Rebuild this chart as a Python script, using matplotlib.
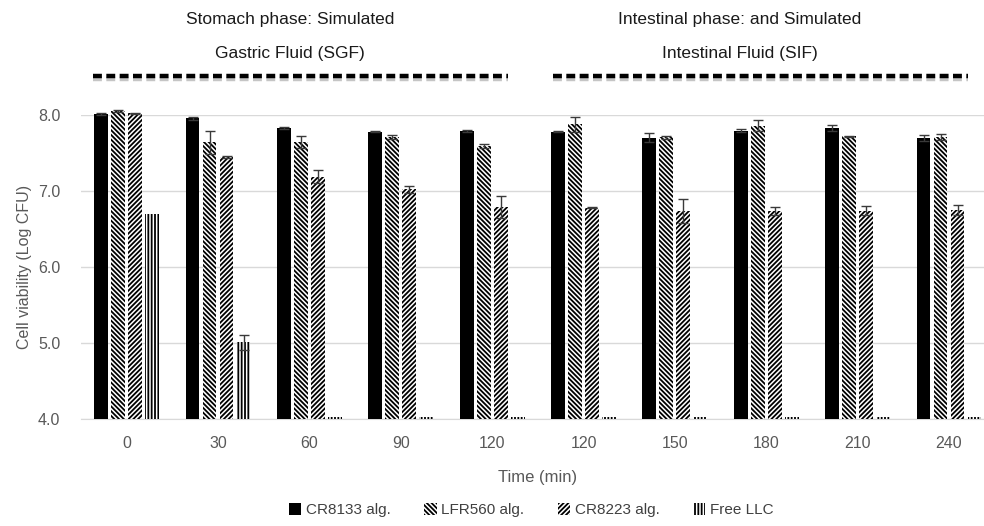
import numpy as np
import matplotlib
matplotlib.use('Agg')
import matplotlib.pyplot as plt
import matplotlib.patches as mpatches
import matplotlib.patheffects as pe
from matplotlib.lines import Line2D

plt.rcParams['font.family'] = ['Liberation Sans', 'DejaVu Sans']
plt.rcParams['hatch.linewidth'] = 1.3

# Data
time_labels = ['0', '30', '60', '90', '120', '120', '150', '180', '210', '240']
series_names = ['CR8133 alg.', 'LFR560 alg.', 'CR8223 alg.', 'Free LLC']

cr8133 = [8.01, 7.96, 7.83, 7.78, 7.79, 7.78, 7.70, 7.79, 7.83, 7.70]
cr8133_err = [0.01, 0.02, 0.01, 0.01, 0.01, 0.01, 0.06, 0.02, 0.04, 0.04]

lfr560 = [8.05, 7.64, 7.64, 7.71, 7.59, 7.88, 7.71, 7.86, 7.72, 7.71]
lfr560_err = [0.01, 0.15, 0.08, 0.03, 0.03, 0.10, 0.02, 0.07, 0.01, 0.04]

cr8223 = [8.02, 7.45, 7.19, 7.02, 6.79, 6.78, 6.74, 6.74, 6.74, 6.75]
cr8223_err = [0.01, 0.01, 0.09, 0.04, 0.14, 0.01, 0.16, 0.05, 0.06, 0.06]

free_llc = [6.70, 5.01, 4.02, 4.02, 4.02, 4.02, 4.02, 4.02, 4.02, 4.02]
free_llc_err = [0.0, 0.10, 0, 0, 0, 0, 0, 0, 0, 0]

fig = plt.figure(figsize=(9.84, 5.26), dpi=100)
ax = fig.add_axes([0.0823, 0.2034, 0.9177, 0.578])

x = np.arange(len(time_labels))
step = 0.186
width = 0.152
base = 4.0
styles = [
    dict(color='black', hatch=None),
    dict(color='white', hatch='\\' * 7),
    dict(color='white', hatch='/' * 7),
    dict(color='white', hatch='|' * 5),
]
values = [cr8133, lfr560, cr8223, free_llc]
errors = [cr8133_err, lfr560_err, cr8223_err, free_llc_err]

for i, (vals, errs, st) in enumerate(zip(values, errors, styles)):
    pos = x + (i - 1.5) * step
    heights = np.array(vals) - base
    ax.bar(pos, heights, width, bottom=base, color=st['color'], hatch=st['hatch'],
           edgecolor='black', linewidth=0, clip_on=False, zorder=3)
    errs = np.array(errs)
    mask = errs > 0
    ax.errorbar(pos[mask], np.array(vals)[mask], yerr=errs[mask], fmt='none',
                ecolor='#3a3a3a', elinewidth=1, capsize=3.5, capthick=1,
                zorder=4, clip_on=False)

ax.set_xlim(-0.5, 9.383)
ax.set_ylim(4.0, 8.0)
ax.set_yticks([4, 5, 6, 7, 8])
ax.set_yticklabels(['4.0', '5.0', '6.0', '7.0', '8.0'])
ax.set_xticks(x)
ax.set_xticklabels(time_labels)
ax.tick_params(axis='both', length=0, labelsize=11.5, colors='#595959')
ax.tick_params(axis='x', pad=12)
ax.tick_params(axis='y', pad=15)
ax.grid(axis='y', color='#d9d9d9', linewidth=1)
ax.set_axisbelow(True)
for s in ['top', 'right', 'left']:
    ax.spines[s].set_visible(False)
ax.spines['bottom'].set_color('#d9d9d9')

ax.set_ylabel('Cell viability (Log CFU)', fontsize=11.5, color='#595959', labelpad=4)
fig.text(0.546, 0.092, 'Time (min)', fontsize=12, color='#595959', ha='center', va='center')

# phase annotations
fig.text(0.295, 0.962, 'Stomach phase: Simulated', fontsize=12.5, color='#1a1a1a', ha='center', va='center')
fig.text(0.295, 0.899, 'Gastric Fluid (SGF)', fontsize=12.5, color='#1a1a1a', ha='center', va='center')
fig.text(0.752, 0.962, 'Intestinal phase: and Simulated', fontsize=12.5, color='#1a1a1a', ha='center', va='center')
fig.text(0.752, 0.899, 'Intestinal Fluid (SIF)', fontsize=12.5, color='#1a1a1a', ha='center', va='center')

for x0, x1 in [(93, 508), (553, 968)]:
    ln = Line2D([x0 / 984, x1 / 984], [1 - 76 / 526] * 2, transform=fig.transFigure,
                color='black', linewidth=3.2, linestyle=(0, (2.0, 1.0)),
                path_effects=[pe.SimpleLineShadow(offset=(0, -2.5), shadow_color='gray', alpha=0.45),
                              pe.Normal()])
    fig.add_artist(ln)

handles = [mpatches.Patch(facecolor=st['color'], hatch=st['hatch'], edgecolor='black',
                          linewidth=0, label=n) for st, n in zip(styles, series_names)]
fig.legend(handles=handles, loc='center', bbox_to_anchor=(0.54, 0.03), ncol=4,
           frameon=False, fontsize=11, handlelength=0.8, handleheight=0.8,
           handletextpad=0.3, columnspacing=2.2, labelcolor='#404040')

fig.savefig('out.png', dpi=100)
